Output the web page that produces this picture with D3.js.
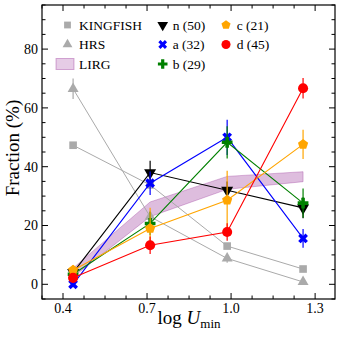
<!DOCTYPE html>
<html><head><meta charset="utf-8">
<script src="https://cdn.jsdelivr.net/npm/d3@7"></script>
<style>body{margin:0;background:#fff}svg{display:block}text{font-family:"Liberation Serif","Times New Roman",serif;fill:#000}</style>
</head><body><svg id="c" width="341" height="340"></svg>
<script>
const xVals = [0.436, 0.711, 0.986, 1.257];
const kingfish = [47.3, 33.8, 13.0, 5.2];
const kingfishErr = [0, 0, 0.8, 0.8];
const hrs = [66.5, 23.0, 8.8, 0.8];
const hrsErr = [3.5, 1.5, 1.5, 0.8];
const nVals = [4.0, 38.0, 32.0, 26.0];
const nErr = [2.0, 4.0, 3.0, 3.5];
const aVals = [0.0, 34.4, 50.0, 15.6];
const aErr = [1.0, 4.0, 6.0, 3.2];
const bVals = [3.4, 20.7, 48.3, 27.6];
const bErr = [1.5, 4.0, 5.5, 5.0];
const cVals = [4.8, 19.0, 28.6, 47.6];
const cErr = [1.8, 7.0, 10.0, 5.0];
const dVals = [2.2, 13.3, 17.8, 66.7];
const dErr = [1.5, 3.0, 3.0, 3.5];
const lirgLo = [2.5, 23.0, 32.3, 34.9];
const lirgHi = [5.5, 28.0, 36.7, 38.3];
const xMajor = [0.4, 0.7, 1.0, 1.3];
const xTickLabels = ["0.4", "0.7", "1.0", "1.3"];
const yMajor = [0, 20, 40, 60, 80];
const yTickLabels = ["0", "20", "40", "60", "80"];

const svg = d3.select("#c");
const L = 42, T = 5, W = 293, H = 294;
const x = d3.scaleLinear().domain([0.325, 1.371]).range([L, L + W]);
const y = d3.scaleLinear().domain([-5, 95]).range([T + H, T]);

const pentagon = { draw(ctx, size) {
  const r = Math.sqrt(size / 2.3776);
  for (let k = 0; k < 5; k++) {
    const a = -Math.PI / 2 + k * 2 * Math.PI / 5;
    const px = r * Math.cos(a), py = r * Math.sin(a);
    if (k === 0) ctx.moveTo(px, py); else ctx.lineTo(px, py);
  }
  ctx.closePath();
}};
const xcross = { draw(ctx, size) {
  const w = Math.sqrt(size / 5);
  const h = w / 2, o = w * 1.5;
  const pts = [[-h,-o],[h,-o],[h,-h],[o,-h],[o,h],[h,h],[h,o],[-h,o],[-h,h],[-o,h],[-o,-h],[-h,-h]];
  const c = Math.SQRT1_2;
  pts.forEach((p, i) => {
    const px = (p[0] - p[1]) * c, py = (p[0] + p[1]) * c;
    if (i === 0) ctx.moveTo(px, py); else ctx.lineTo(px, py);
  });
  ctx.closePath();
}};

const area = d3.area().x((d, i) => x(xVals[i])).y0((d, i) => y(lirgLo[i])).y1((d, i) => y(lirgHi[i]));
svg.append("path").attr("d", area(xVals)).attr("fill", "rgba(128,0,128,0.26)")
  .attr("stroke", "rgba(128,0,128,0.26)").attr("stroke-width", 1);

const series = [
  {v: kingfish, e: kingfishErr, color: "#aaaaaa", sym: d3.symbolSquare, size: 58, rot: 0, lw: 1},
  {v: hrs, e: hrsErr, color: "#aaaaaa", sym: d3.symbolTriangle, size: 52, rot: 0, lw: 1},
  {v: nVals, e: nErr, color: "#000000", sym: d3.symbolTriangle, size: 62, rot: 180, lw: 1.1},
  {v: aVals, e: aErr, color: "#0000ff", sym: xcross, size: 60, rot: 0, lw: 1.1},
  {v: bVals, e: bErr, color: "#008000", sym: d3.symbolCross, size: 64, rot: 0, lw: 1.1},
  {v: cVals, e: cErr, color: "#ffa500", sym: pentagon, size: 68, rot: 0, lw: 1.1},
  {v: dVals, e: dErr, color: "#ff0000", sym: d3.symbolCircle, size: 80, rot: 0, lw: 1.1}
];
const line = d3.line().x((d, i) => x(xVals[i])).y(d => y(d));
series.forEach(s => {
  const g = svg.append("g");
  g.append("path").attr("d", line(s.v)).attr("fill", "none").attr("stroke", s.color).attr("stroke-width", s.lw);
  s.v.forEach((v, i) => {
    if (s.e[i] > 0) g.append("line").attr("x1", x(xVals[i])).attr("x2", x(xVals[i]))
      .attr("y1", y(v - s.e[i])).attr("y2", y(v + s.e[i])).attr("stroke", s.color).attr("stroke-width", 1.2);
  });
  s.v.forEach((v, i) => {
    g.append("path").attr("d", d3.symbol().type(s.sym).size(s.size)())
      .attr("transform", `translate(${x(xVals[i])},${y(v)}) rotate(${s.rot})`).attr("fill", s.color);
  });
});

svg.append("rect").attr("x", L).attr("y", T).attr("width", W).attr("height", H)
  .attr("fill", "none").attr("stroke", "#000").attr("stroke-width", 1.2);

const ax = svg.append("g").attr("stroke", "#000").attr("stroke-width", 1);
const xMinor = d3.range(0, 15).map(k => 0.325 + k * 0.075).filter(v => v < 1.371);
xMinor.forEach(v => {
  const maj = xMajor.some(m => Math.abs(m - v) < 1e-6);
  const len = maj ? 6 : 3.5;
  ax.append("line").attr("x1", x(v)).attr("x2", x(v)).attr("y1", T + H).attr("y2", T + H - len);
  ax.append("line").attr("x1", x(v)).attr("x2", x(v)).attr("y1", T).attr("y2", T + len);
});
d3.range(-5, 96, 5).forEach(v => {
  const maj = yMajor.includes(v);
  const len = maj ? 6 : 3.5;
  ax.append("line").attr("x1", L).attr("x2", L + len).attr("y1", y(v)).attr("y2", y(v));
  ax.append("line").attr("x1", L + W).attr("x2", L + W - len).attr("y1", y(v)).attr("y2", y(v));
});
xMajor.forEach((v, i) => svg.append("text").attr("x", x(v)).attr("y", 313).attr("text-anchor", "middle")
  .attr("font-size", 14).text(xTickLabels[i]));
yMajor.forEach((v, i) => svg.append("text").attr("x", 38).attr("y", y(v)).attr("dy", "0.35em")
  .attr("text-anchor", "end").attr("font-size", 14).text(yTickLabels[i]));

svg.append("text").attr("transform", "translate(19,148) rotate(-90)").attr("text-anchor", "middle")
  .attr("font-size", 19).text("Fraction (%)");
const xl = svg.append("text").attr("x", 189).attr("y", 324).attr("text-anchor", "middle").attr("font-size", 19);
xl.append("tspan").text("log ");
xl.append("tspan").attr("font-style", "italic").text("U");
xl.append("tspan").attr("font-size", 13).attr("dy", 4).text("min");

const leg = [
  {col: 0, row: 0, s: 0, label: "KINGFISH"},
  {col: 0, row: 1, s: 1, label: "HRS"},
  {col: 0, row: 2, s: -1, label: "LIRG"},
  {col: 1, row: 0, s: 2, label: "n (50)"},
  {col: 1, row: 1, s: 3, label: "a (32)"},
  {col: 1, row: 2, s: 4, label: "b (29)"},
  {col: 2, row: 0, s: 5, label: "c (21)"},
  {col: 2, row: 1, s: 6, label: "d (45)"}
];
const colMk = [67.5, 162.7, 226], colTx = [79, 172.7, 236.7], rowY = [25, 44.5, 64];
leg.forEach(l => {
  const cy = rowY[l.row];
  if (l.s < 0) {
    svg.append("rect").attr("x", 56).attr("y", cy - 5.5).attr("width", 18).attr("height", 11)
      .attr("fill", "rgba(128,0,128,0.2)").attr("stroke", "rgba(128,0,128,0.3)").attr("stroke-width", 1);
  } else {
    const s = series[l.s];
    svg.append("path").attr("d", d3.symbol().type(s.sym).size(s.size * 0.8)())
      .attr("transform", `translate(${colMk[l.col]},${cy}) rotate(${s.rot})`).attr("fill", s.color);
  }
  svg.append("text").attr("x", colTx[l.col]).attr("y", cy + 4.5).attr("font-size", 13.5).text(l.label);
});
</script></body></html>
